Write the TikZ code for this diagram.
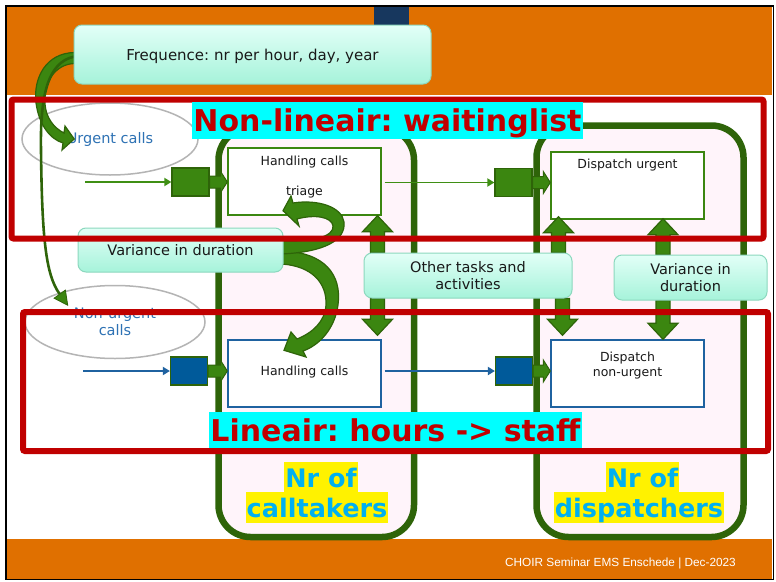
\documentclass[tikz,border=0pt]{standalone}
\usepackage{fontspec}
\setmainfont{DejaVu Sans}
\newfontfamily\footfont{Liberation Sans}
\usetikzlibrary{calc,arrows.meta,shapes.geometric}
\frenchspacing
\pgfdeclarelayer{back}
\pgfdeclarelayer{mid}
\pgfsetlayers{back,mid,main}
\definecolor{orangeC}{HTML}{E07000}
\definecolor{navyC}{HTML}{17375E}
\definecolor{redC}{HTML}{C00000}
\definecolor{frameG}{HTML}{2E6409}
\definecolor{midG}{HTML}{3B8610}
\definecolor{lineG}{HTML}{3F8F14}
\definecolor{blueC}{HTML}{1F62A0}
\definecolor{sqBlue}{HTML}{005A9A}
\definecolor{txtBlue}{HTML}{2E72B4}
\definecolor{boxTop}{HTML}{E2FFF7}
\definecolor{boxBot}{HTML}{A6F3DA}
\definecolor{boxLine}{HTML}{8CD8BE}
\definecolor{pinkF}{HTML}{FFF4FA}
\definecolor{ellG}{HTML}{B4B4B4}
\definecolor{nrBlue}{HTML}{00B0F0}
\definecolor{cyanC}{HTML}{00FFFF}
\newcommand\uparr[2]{\filldraw[blk] ($#1+(-7,0)$) -- ($#2+(-7,16)$) -- ($#2+(-15,16)$) -- #2 -- ($#2+(15,16)$) -- ($#2+(7,16)$) -- ($#1+(7,0)$) -- cycle;}
\newcommand\downarr[2]{\filldraw[blk] ($#1+(-7,0)$) -- ($#2+(-7,-16)$) -- ($#2+(-15,-16)$) -- #2 -- ($#2+(15,-16)$) -- ($#2+(7,-16)$) -- ($#1+(7,0)$) -- cycle;}
\newcommand\tabarr[2]{\filldraw[tabst] ($(#1.east)+(0,-6)$) -- ($(#1.east -| #2.west)+(-7,-6)$) -- ($(#1.east -| #2.west)+(-7,-11)$) -- (#1.east -| #2.west) -- ($(#1.east -| #2.west)+(-7,11)$) -- ($(#1.east -| #2.west)+(-7,6)$) -- ($(#1.east)+(0,6)$) -- cycle;}
\begin{document}
\begin{tikzpicture}[x=1pt,y=-1pt,
  gframe/.style={draw=frameG, line width=6.5pt, fill=pinkF, rounded corners=32pt, inner sep=0pt},
  ell/.style={ellipse, draw=ellG, line width=1.5pt, inner sep=0pt, text=txtBlue, align=center, font=\fontsize{14.5}{17.4}\selectfont},
  wbox/.style={rectangle, fill=white, line width=1.4pt, minimum width=153pt, minimum height=67pt, inner sep=0pt},
  small/.style={font=\fontsize{12.5}{15}\selectfont, text=black!90, inner sep=0pt, align=center},
  sqG/.style={rectangle, fill=midG, draw=frameG, line width=1.2pt, minimum width=37pt, minimum height=28pt, inner sep=0pt},
  sqB/.style={sqG, fill=sqBlue},
  tabst/.style={fill=midG, draw=frameG, line width=1pt},
  gline/.style={draw=lineG, line width=1.8pt, -{Triangle[length=7pt,width=8pt]}},
  bline/.style={draw=blueC, line width=1.8pt, -{Triangle[length=7pt,width=8pt]}},
  blk/.style={fill=midG, draw=frameG, line width=1.2pt},
  thinarr/.style={draw=frameG, line width=2.6pt, -{Triangle[length=15pt,width=15pt,line width=0.8pt,fill=midG]}},
  gbox/.style={rectangle, rounded corners=8pt, top color=boxTop, bottom color=boxBot, draw=boxLine, line width=1pt, inner sep=0pt, text=black!90, font=\fontsize{14.5}{17.4}\selectfont, align=center},
  redframe/.style={draw=redC, line width=6pt, rounded corners=2pt},
  cyanlab/.style={fill=cyanC, text=redC, font=\bfseries\fontsize{30}{36}\selectfont, inner sep=0pt, text height=22pt, text depth=0pt},
  nrlab/.style={fill=yellow, text=nrBlue, font=\bfseries\fontsize{25.5}{30}\selectfont, inner xsep=1pt, inner ysep=0pt, minimum height=31pt, text height=19pt, text depth=0pt},
  foot/.style={text=white, font=\footfont\fontsize{11.8}{14}\selectfont, inner sep=0pt}
]
\useasboundingbox (0,0) rectangle (776,581);
\begin{pgfonlayer}{back}
\fill[white] (0,0) rectangle (776,581);
\fill[orangeC] (7,7) rectangle (772,95);
\fill[navyC] (374,7) rectangle (409,30);
\fill[orangeC] (7,539) rectangle (772,579);
% staff frames
\node[gframe, minimum width=195.5pt, minimum height=409pt] (ctFrame) at (316.25,332.5) {};
\node[gframe, minimum width=207pt, minimum height=411.5pt] (dpFrame) at (640,331.25) {};
% ellipses
\node[ell, minimum width=176pt, minimum height=72pt] (urg) at (110,139) {Urgent calls};
\node[ell, minimum width=180pt, minimum height=73pt] (nurg) at (115,322) {Non-urgent\\calls};
% white boxes
\node[wbox, draw=midG] (hc1) at (304.5,181.5) {};
\node[small] (hc1a) at (304.5,162) {Handling calls};
\node[small] (hc1b) at (304.5,192) {triage};
\node[wbox, draw=midG] (du) at (627.5,185.5) {};
\node[small] (dut) at (627.5,165) {Dispatch urgent};
\node[wbox, draw=blueC] (hc2) at (304.5,373.5) {};
\node[small] (hc2t) at (304.5,372) {Handling calls};
\node[wbox, draw=blueC] (dn) at (627.5,373.5) {};
\node[small] (dnt) at (627.5,366) {Dispatch\\non-urgent};
% squares
\node[sqG] (sq1) at (190.5,182) {};
\node[sqG] (sq2) at (513.5,182.5) {};
\node[sqB] (sq3) at (189,371) {};
\node[sqB] (sq4) at (514,371) {};
\tabarr{sq1}{hc1}
\tabarr{sq2}{du}
\tabarr{sq3}{hc2}
\tabarr{sq4}{dn}
\coordinate (in1) at (85,182);
\coordinate (in2) at (83,371);
\draw[gline] (in1) -- (sq1.west);
\draw[gline, shorten <=3pt] (hc1.east |- sq2.west) -- (sq2.west);
\draw[bline] (in2) -- (sq3.west);
\draw[bline, shorten <=3pt] (hc2.east |- sq4.west) -- (sq4.west);
\end{pgfonlayer}
% gradient boxes
\node[gbox, font=\fontsize{15}{18}\selectfont, minimum width=357pt, minimum height=59pt, text height=11pt, text depth=0pt] (freq) at (252.5,54.5) {Frequence: nr per hour, day, year};
\node[gbox, minimum width=205pt, minimum height=44pt, text height=10.5pt, text depth=0pt] (var1) at (180.5,250) {Variance in duration};
\node[gbox, minimum width=208pt, minimum height=45pt] (other) at (468,275.5) {Other tasks and\\activities};
\node[gbox, minimum width=153pt, minimum height=45pt] (var2) at (690.5,277.5) {Variance in\\duration};
\begin{pgfonlayer}{mid}
% curved arrows from variance box
\filldraw[blk] ($(var1.east)+(-2,1)$) .. controls (325,252) and (342,275) .. (338,305) .. controls (335,328) and (320,345) .. (303,351) -- (306,357) -- ($(hc2.north)+(-20.5,11)$) -- (291,332) -- (297,339) .. controls (312,333) and (325,322) .. (326,305) .. controls (327,283) and (312,266) .. ($(var1.east)+(-2,14)$) -- cycle;
\filldraw[blk] ($(var1.east)+(-2,4)$) .. controls (325,252) and (346,240) .. (344,222) .. controls (342,207) and (318,199) .. (293,203) -- (291,196) -- ($(hc1.south)+(-21.5,-5)$) -- (299,226) -- (297,219) .. controls (315,214) and (332,217) .. (333,226) .. controls (334,236) and (315,242) .. ($(var1.east)+(-2,-9)$) -- cycle;
% curved arrows from frequence box
\filldraw[blk] ($(freq.west)+(1,-2)$) .. controls (46,53) and (33,78) .. (36,103) .. controls (39,125) and (50,139) .. (63,143) -- (62,150) -- ($(urg.west)+(53,0)$) -- (65,126) -- (64,133) .. controls (54,128) and (46,118) .. (45,104) .. controls (43,83) and (55,64) .. ($(freq.west)+(1,9)$) -- cycle;
\draw[thinarr] ($(freq.west)+(1,2)$) .. controls (48,62) and (40,95) .. (41,150) .. controls (42,240) and (46,275) .. ($(nurg.west)+(44,-16)$);
% vertical block arrows
\coordinate (a1s) at ($(other.north west)+(14,0)$);
\coordinate (a1t) at (a1s |- hc1.south);
\coordinate (a2s) at ($(other.south west)+(14,0)$);
\coordinate (a2t) at ($(a2s |- hc2.north)+(0,-4)$);
\coordinate (a3s) at ($(other.north east)+(-14,0)$);
\coordinate (a3t) at ($(a3s |- du.south)+(0,-3)$);
\coordinate (a4s) at ($(other.south east)+(-10,0)$);
\coordinate (a4t) at ($(a4s |- dn.north)+(0,-4)$);
\coordinate (a5s) at ($(var2.north)+(-27.5,0)$);
\coordinate (a5t) at ($(a5s |- du.south)+(0,-1)$);
\coordinate (a6s) at ($(var2.south)+(-27.5,0)$);
\coordinate (a6t) at (a6s |- dn.north);
\uparr{(a1s)}{(a1t)}
\downarr{(a2s)}{(a2t)}
\uparr{(a3s)}{(a3t)}
\downarr{(a4s)}{(a4t)}
\uparr{(a5s)}{(a5t)}
\downarr{(a6s)}{(a6t)}
\end{pgfonlayer}
% red frames and labels
\draw[redframe] (11.5,99.5) rectangle (763.5,238.5);
\draw[redframe] (23,312) rectangle (768,451);
\node[cyanlab, minimum width=391pt, minimum height=37pt] (nl) at (387.5,120.5) {Non-lineair: waitinglist};
\node[cyanlab, minimum width=373pt, minimum height=36pt] (li) at (395.5,430) {Lineair: hours -> staff};
\node[nrlab] (nr1a) at (321,477.5) {Nr of\hspace{9pt}};
\node[nrlab] (nr1b) at (317,507.5) {calltakers};
\node[nrlab] (nr2a) at (642.5,477.5) {Nr of\hspace{9pt}};
\node[nrlab] (nr2b) at (639,507.5) {dispatchers};
\node[foot] (ft) at (620.5,563) {CHOIR Seminar EMS Enschede | Dec-2023};
\draw[black, line width=1.5pt] (5.75,5.75) rectangle (773.25,579.5);
\end{tikzpicture}
\end{document}
